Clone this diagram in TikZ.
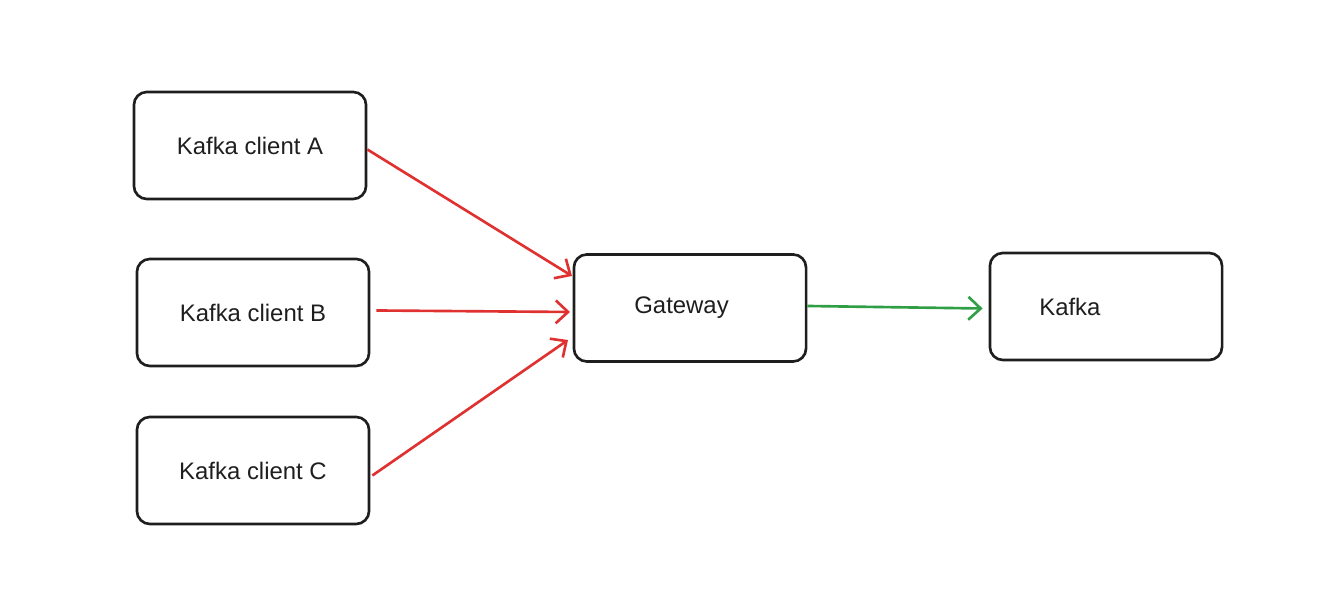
\documentclass[tikz,border=0pt]{standalone}
\usepackage{fontspec}
\setmainfont{Liberation Sans}
\usetikzlibrary{arrows.meta}
\usetikzlibrary{positioning}

\definecolor{inkblack}{HTML}{1E1E1E}
\definecolor{linkred}{HTML}{E03131}
\definecolor{linkgreen}{HTML}{2F9E44}

\tikzset{
  box/.style={rectangle,draw=inkblack,line width=0.75pt,rounded corners=0.13cm,
    minimum height=1.07cm,minimum width=2.32cm,inner sep=0pt,
    font=\fontsize{6.8}{8}\selectfont,text=inkblack},
  boxtext/.style={font=\fontsize{6.8}{8}\selectfont,text=inkblack,anchor=west,inner sep=0pt},
  redlink/.style={draw=linkred,line width=0.75pt,-{Straight Barb[length=3.5pt,width=6.5pt,line width=0.75pt]}},
  greenlink/.style={draw=linkgreen,line width=0.75pt,-{Straight Barb[length=3.5pt,width=6.5pt,line width=0.75pt]}}
}

\begin{document}
\begin{tikzpicture}[x=0.01cm,y=-0.01cm]
\useasboundingbox (0,0) rectangle (1344,598);

% clients
\node[box] (clientA) at (250,145.5) {Kafka client A};
\node[box] (clientB) at (253,312.5) {Kafka client B};
\node[box] (clientC) at (253,470.5) {Kafka client C};

% gateway
\node[box] (gateway) at (690,308) {};
\node[boxtext] (gwtext) at ([xshift=0.61cm]gateway.west) {Gateway};

% kafka
\node[box] (kafka) at (1106,306.5) {};
\node[boxtext] (kafkatext) at ([xshift=0.50cm]kafka.west) {Kafka};

% links
\coordinate (inA) at (572,276);
\coordinate (inB) at (570,312);
\coordinate (inC) at (568,340);
\draw[redlink] ([yshift=-0.04cm]clientA.east) -- (inA);
\draw[redlink] ([xshift=0.06cm,yshift=0.02cm]clientB.east) -- (inB);
\draw[redlink] ([xshift=0.02cm,yshift=-0.05cm]clientC.east) -- (inC);

\draw[greenlink] ([yshift=0.02cm]gateway.east) -- ([xshift=-0.06cm,yshift=-0.02cm]kafka.west);

\end{tikzpicture}
\end{document}
